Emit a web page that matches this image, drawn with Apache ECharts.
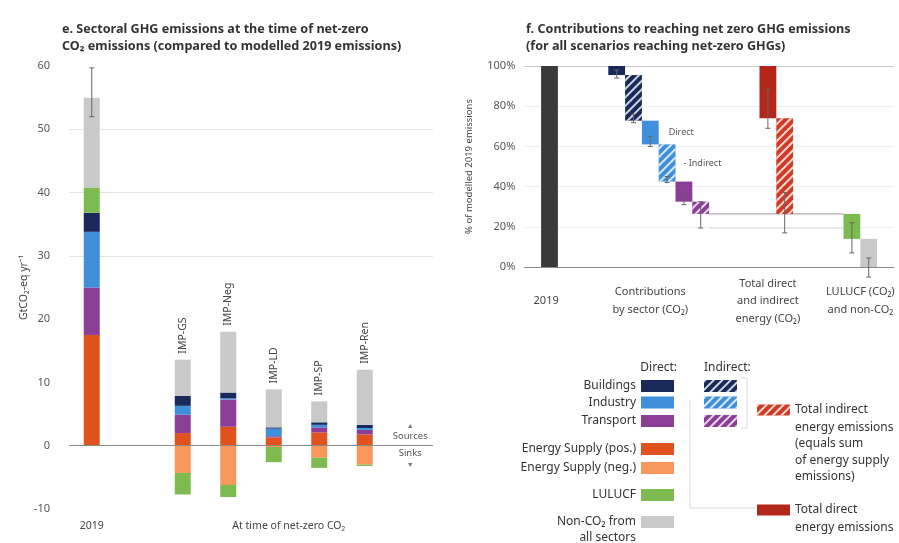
<!DOCTYPE html>
<html><head><meta charset="utf-8">
<script src="https://cdn.jsdelivr.net/npm/echarts@6/dist/echarts.min.js"></script>
<style>html,body{margin:0;padding:0;background:#fff}#c{width:899px;height:543px}</style>
</head><body><div id="c"></div>
<script>
// ---------- Panel e data (GtCO2-eq / yr) ----------
const leftCategories = ['2019', 'gap', 'IMP-GS', 'IMP-Neg', 'IMP-LD', 'IMP-SP', 'IMP-Ren', 'end'];
const scenarioNames = ['', '', 'IMP-GS', 'IMP-Neg', 'IMP-LD', 'IMP-SP', 'IMP-Ren', ''];
const leftGroupLabels = ['2019', 'At time of net-zero CO\u2082'];
const leftGroupPos = [0, 4.33];
const energyPos = [17.5, '-', 2.0, 3.0, 1.3, 2.1, 1.8, '-'];
const energyNeg = ['-', '-', -4.3, -6.2, -0.2, -1.9, -3.0, '-'];
const transport = [7.5, '-', 2.9, 4.3, 0.2, 0.8, 0.7, '-'];
const industry = [8.8, '-', 1.4, 0.2, 1.2, 0.4, 0.3, '-'];
const buildings = [3.0, '-', 1.6, 0.9, 0.2, 0.4, 0.5, '-'];
const lulucf = [4.0, '-', -3.4, -1.9, -2.4, -1.6, -0.2, '-'];
const nonCO2 = [14.2, '-', 5.7, 9.6, 6.0, 3.3, 8.7, '-'];
const leftErr = [[0, 52, 59.7]];

// ---------- Panel f data (% of modelled 2019 emissions) ----------
const rightCount = 22;
const rightLabelText = ['2019', 'Contributions\nby sector (CO\u2082)', 'Total direct\nand indirect\nenergy (CO\u2082)', 'LULUCF (CO\u2082)\nand non-CO\u2082'];
const rightLabelPos = [0.8, 7, 14, 19.5];
const base2019 = 100;
const wfNames = ['Buildings', 'Buildings (indirect)', 'Industry', 'Industry (indirect)', 'Transport', 'Transport (indirect)',
  'Total direct energy emissions', 'Total indirect energy emissions', 'LULUCF', 'Non-CO\u2082 from all sectors'];
const wfIdx = [5, 6, 7, 8, 9, 10, 14, 15, 19, 20];
const wfDrop = [4.5, 22.7, 11.8, 18.5, 10.0, 6.1, 26.0, 47.6, 12.4, 14.0];
const wfGroup = [0, 0, 0, 0, 0, 0, 1, 1, 2, 2];
const rightErr = [[5, 94, 98], [6, 71.8, 76], [7, 60, 65], [8, 42, 45], [9, 31, 36], [10, 19.4, 32.5],
  [14, 69, 89], [15, 17, 37], [19, 7, 22], [20, -5, 4.5]];

// ---------- colours ----------
const C = {
  pos: '#e2521f', neg: '#f8975c', tra: '#8b3e96', ind: '#3f8fda', bld: '#18295a',
  lul: '#7dbb51', non: '#c9c9c9', y2019: '#3a3a3a', tdir: '#b3271b', tind: '#cf3b25'
};
const hatch = { symbol: 'rect', symbolSize: 1, dashArrayX: [1, 0], dashArrayY: [2, 4], rotation: -Math.PI / 4, color: 'rgba(255,255,255,0.8)' };
const wfColor = [C.bld, C.bld, C.ind, C.ind, C.tra, C.tra, C.tdir, C.tind, C.lul, C.non];
const wfHatch = [false, true, false, true, false, true, false, true, false, false];

// waterfall bases
const wfStart = [];
{
  let cur = base2019;
  for (let i = 0; i < wfDrop.length; i++) {
    if (i > 0 && wfGroup[i] !== wfGroup[i - 1]) {
      if (wfGroup[i] === 1) cur = base2019;
      if (wfGroup[i] === 2) cur = wfStart[5] - wfDrop[5];
    }
    wfStart.push(cur);
    cur -= wfDrop[i];
  }
}
const baseData = new Array(rightCount).fill('-');
wfIdx.forEach((ix, i) => { baseData[ix] = +(wfStart[i] - wfDrop[i]).toFixed(2); });
const connY = +(wfStart[5] - wfDrop[5]).toFixed(2);
const connectors = [[10, 19, connY, '#9a9a9a'], [10, 19, rightErr[5][1], '#d9d9d9']];
const rightCats = Array.from({ length: rightCount }, (_, i) => 'c' + i);

const FONT = 'Noto Sans';
const chart = echarts.init(document.getElementById('c'), null, { renderer: 'canvas' });

function errRender(params, api) {
  const x = api.value(0);
  const p1 = api.coord([x, api.value(1)]);
  const p2 = api.coord([x, api.value(2)]);
  const st = { stroke: '#666', lineWidth: 1 };
  return {
    type: 'group', children: [
      { type: 'line', shape: { x1: p1[0], y1: p1[1], x2: p2[0], y2: p2[1] }, style: st },
      { type: 'line', shape: { x1: p1[0] - 2.5, y1: p1[1], x2: p1[0] + 2.5, y2: p1[1] }, style: st },
      { type: 'line', shape: { x1: p2[0] - 2.5, y1: p2[1], x2: p2[0] + 2.5, y2: p2[1] }, style: st }
    ]
  };
}
function connRender(params, api) {
  const bw = api.size([1, 0])[0];
  const a = api.coord([api.value(0), api.value(2)]);
  const b = api.coord([api.value(1), api.value(2)]);
  return { type: 'line', shape: { x1: a[0] + bw / 2, y1: a[1], x2: b[0] - bw / 2, y2: b[1] },
    style: { stroke: connectors[params.dataIndex][3], lineWidth: 1 } };
}

function leftBar(name, data, color, extra) {
  return Object.assign({
    name, type: 'bar', stack: 'e', xAxisIndex: 0, yAxisIndex: 0, barWidth: 16,
    stackStrategy: 'samesign', data, itemStyle: { color }, emphasis: { disabled: true }
  }, extra || {});
}

const series = [
  leftBar('Energy Supply (pos.)', energyPos, C.pos, {
    markLine: { silent: true, symbol: 'none', label: { show: false }, lineStyle: { color: '#8a8a8a', width: 1, type: 'solid' }, data: [{ yAxis: 0 }] }
  }),
  leftBar('Energy Supply (neg.)', energyNeg, C.neg),
  leftBar('Transport', transport, C.tra),
  leftBar('Industry', industry, C.ind),
  leftBar('Buildings', buildings, C.bld),
  leftBar('LULUCF', lulucf, C.lul),
  leftBar('Non-CO\u2082 from all sectors', nonCO2, C.non, {
    label: { show: true, position: 'top', rotate: 90, align: 'left', verticalAlign: 'middle', distance: 6,
      fontFamily: FONT, fontSize: 10.5, color: '#444', formatter: p => scenarioNames[p.dataIndex] }
  }),
  { type: 'custom', xAxisIndex: 0, yAxisIndex: 0, renderItem: errRender, data: leftErr, z: 5, silent: true },
  // right panel
  { name: 'wfbase', type: 'bar', stack: 'f', xAxisIndex: 1, yAxisIndex: 1, barWidth: 16.8, data: baseData,
    itemStyle: { color: 'rgba(0,0,0,0)' }, silent: true, emphasis: { disabled: true } },
  { name: '2019 modelled', type: 'bar', stack: 'f', xAxisIndex: 1, yAxisIndex: 1, barWidth: 16.8,
    data: Array.from({ length: rightCount }, (_, i) => i === 1 ? base2019 : '-'), itemStyle: { color: C.y2019 }, emphasis: { disabled: true } }
];
wfNames.forEach((nm, i) => {
  const d = new Array(rightCount).fill('-');
  d[wfIdx[i]] = wfDrop[i];
  const s = { name: nm, type: 'bar', stack: 'f', xAxisIndex: 1, yAxisIndex: 1, barWidth: 16.8, data: d,
    itemStyle: { color: wfColor[i] }, emphasis: { disabled: true } };
  if (wfHatch[i]) s.itemStyle.decal = hatch;
  if (nm === 'Industry' || nm === 'Industry (indirect)') {
    s.label = { show: true, position: 'right', distance: nm === 'Industry' ? 10 : 8, fontFamily: FONT, fontSize: 9, color: '#555',
      formatter: nm === 'Industry' ? 'Direct' : '- Indirect' };
  }
  series.push(s);
});
series.push({ type: 'custom', xAxisIndex: 1, yAxisIndex: 1, renderItem: errRender, data: rightErr, z: 5, silent: true, clip: false });
series.push({ type: 'custom', xAxisIndex: 1, yAxisIndex: 1, renderItem: connRender, data: connectors, z: 1, silent: true });

const LFS = 12;
function leg(name, top, opts) {
  return Object.assign({
    data: [name], top, itemWidth: 33, itemHeight: 12, icon: 'rect', padding: 0, itemGap: 0, selectedMode: false,
    textStyle: { fontFamily: FONT, fontSize: LFS, color: '#333' }
  }, opts);
}
const directRight = 225;
const legends = [
  leg('Buildings', 380, { right: directRight, align: 'right' }),
  leg('Industry', 396.5, { right: directRight, align: 'right' }),
  leg('Transport', 415, { right: directRight, align: 'right' }),
  leg('Energy Supply (pos.)', 443, { right: directRight, align: 'right' }),
  leg('Energy Supply (neg.)', 462, { right: directRight, align: 'right' }),
  leg('LULUCF', 489, { right: directRight, align: 'right' }),
  leg('Non-CO\u2082 from all sectors', 516, { right: directRight, align: 'right', formatter: () => 'Non-CO\u2082 from' }),
  leg('Buildings (indirect)', 380, { left: 704, formatter: () => '' }),
  leg('Industry (indirect)', 396.5, { left: 704, formatter: () => '' }),
  leg('Transport (indirect)', 415, { left: 704, formatter: () => '' }),
  leg('Total indirect energy emissions', 404, { left: 757, itemHeight: 11, formatter: () => 'Total indirect' }),
  leg('Total direct energy emissions', 504, { left: 757, itemHeight: 11, formatter: () => 'Total direct' })
];

const option = {
  backgroundColor: '#fff',
  animation: false,
  textStyle: { fontFamily: FONT },
  title: [
    { text: 'e. Sectoral GHG emissions at the time of net-zero\nCO\u2082 emissions (compared to modelled 2019 emissions)', left: 57, top: 16,
      textStyle: { fontFamily: FONT, fontSize: 12.6, fontWeight: 'bold', color: '#333', lineHeight: 17 } },
    { text: 'f. Contributions to reaching net zero GHG emissions\n(for all scenarios reaching net-zero GHGs)', left: 521, top: 16,
      textStyle: { fontFamily: FONT, fontSize: 12.6, fontWeight: 'bold', color: '#333', lineHeight: 17 } }
  ],
  legend: legends,
  grid: [
    { left: 69, right: 466, top: 66, bottom: 34 },
    { left: 524.3, right: 5.1, top: 66, bottom: 276 }
  ],
  xAxis: [
    { type: 'category', gridIndex: 0, data: leftCategories, axisLine: { show: false }, axisTick: { show: false }, axisLabel: { show: false } },
    { type: 'category', gridIndex: 1, data: rightCats, axisLine: { onZero: false, lineStyle: { color: '#8a8a8a' } }, axisTick: { show: false }, axisLabel: { show: false } }
  ],
  yAxis: [
    { type: 'value', gridIndex: 0, min: -10, max: 60, interval: 10,
      name: 'GtCO\u2082-eq yr\u207B\u00B9', nameLocation: 'middle', nameGap: 37, nameRotate: 90,
      nameTextStyle: { fontSize: 10.5, color: '#444', fontFamily: FONT },
      axisLine: { show: false }, axisTick: { show: false },
      axisLabel: { margin: 19, fontSize: 11, color: '#555', fontFamily: FONT },
      splitLine: { lineStyle: { color: ['rgba(0,0,0,0)', 'rgba(0,0,0,0)', 'rgba(0,0,0,0)', 'rgba(0,0,0,0)', '#e4e4e4', '#e4e4e4', '#e4e4e4', 'rgba(0,0,0,0)'] } } },
    { type: 'value', gridIndex: 1, min: 0, max: 100, interval: 20,
      name: '% of modelled 2019 emissions', nameLocation: 'middle', nameGap: 50, nameRotate: 90,
      nameTextStyle: { fontSize: 9.5, color: '#444', fontFamily: FONT },
      axisLine: { show: false }, axisTick: { show: false },
      axisLabel: { margin: 9, fontSize: 11, color: '#555', fontFamily: FONT, formatter: '{value}%' },
      splitLine: { lineStyle: { color: ['rgba(0,0,0,0)', '#efefef', '#efefef', '#efefef', '#efefef', '#c8c8c8'] } } }
  ],
  series
};
chart.setOption(option);

// ---------- category labels and annotations placed through the axes ----------
function catX(axisIndex, pos) {
  const i0 = Math.floor(pos);
  const a = chart.convertToPixel({ xAxisIndex: axisIndex }, i0);
  const b = chart.convertToPixel({ xAxisIndex: axisIndex }, i0 + 1);
  return a + (b - a) * (pos - i0);
}
const leftLabelY = chart.convertToPixel({ yAxisIndex: 0 }, -10) + 17;
const rightLabelY = chart.convertToPixel({ yAxisIndex: 1 }, 0) + 34;
const txt = (text, x, y, extra) => ({ type: 'text', x, y, silent: true,
  style: Object.assign({ text, fontFamily: FONT, fontSize: 11, fill: '#444', align: 'center', verticalAlign: 'middle' }, extra || {}) });
const graphics = [];
leftGroupLabels.forEach((t, i) => graphics.push(txt(t, catX(0, leftGroupPos[i]), leftLabelY, { fontSize: 10.5 })));
rightLabelText.forEach((t, i) => graphics.push(txt(t, catX(1, rightLabelPos[i]), rightLabelY, { lineHeight: 17.5 })));
const zeroY = chart.convertToPixel({ yAxisIndex: 0 }, 0);
const srcX = catX(0, 7);
graphics.push(txt('\u25B2', srcX, zeroY - 20, { fontSize: 7, fill: '#777' }));
graphics.push(txt('Sources', srcX, zeroY - 9, { fontSize: 9.5, fill: '#555' }));
graphics.push(txt('Sinks', srcX, zeroY + 8, { fontSize: 9.5, fill: '#555' }));
graphics.push(txt('\u25BC', srcX, zeroY + 19, { fontSize: 7, fill: '#777' }));
// legend headers and continuation lines
graphics.push(txt('Direct:', 677, 368, { fontSize: LFS, fill: '#333', align: 'right' }));
graphics.push(txt('Indirect:', 704, 368, { fontSize: LFS, fill: '#333', align: 'left' }));
graphics.push(txt('all sectors', 636, 538, { fontSize: LFS, fill: '#333', align: 'right' }));
graphics.push(txt('energy emissions\n(equals sum\nof energy supply\nemissions)', 795, 452, { fontSize: LFS, fill: '#333', align: 'left', lineHeight: 16.5 }));
graphics.push(txt('energy emissions', 795, 528, { fontSize: LFS, fill: '#333', align: 'left' }));
graphics.push({ type: 'polyline', silent: true, shape: { points: [[741, 378], [747, 378], [747, 428], [741, 428]] }, style: { stroke: '#dcdcdc', lineWidth: 1, fill: null } });
graphics.push({ type: 'polyline', silent: true, shape: { points: [[690, 400], [690, 508], [755, 508]] }, style: { stroke: '#dcdcdc', lineWidth: 1, fill: null } });
chart.setOption({ graphic: graphics });
</script></body></html>
